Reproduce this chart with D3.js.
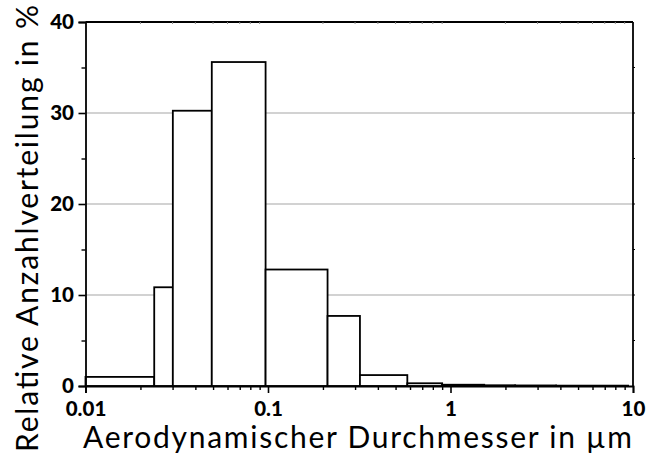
<!DOCTYPE html>
<html>
<head>
<meta charset="utf-8">
<script src="https://cdn.jsdelivr.net/npm/d3@7"></script>
<style>
  html, body { margin: 0; padding: 0; background: #fff; }
  svg { display: block; }
</style>
</head>
<body>
<svg id="chart" width="647" height="458"></svg>
<script>
// Size classes (bin edges, µm) and relative number share per class (%)
const binEdges = [0.01, 0.0238, 0.0301, 0.0492, 0.097, 0.212, 0.319, 0.58, 0.90, 1.53, 2.26, 3.79, 9.4];
const shares   = [1.0, 10.85, 30.25, 35.6, 12.8, 7.7, 1.2, 0.3, 0.14, 0.08, 0.06, 0.04];
const xTickValues = [0.01, 0.1, 1, 10];
const xTickLabels = ["0.01", "0.1", "1", "10"];
const yTickValues = [0, 10, 20, 30, 40];
const xTitle = "Aerodynamischer Durchmesser in µm";
const yTitle = "Relative Anzahlverteilung in %";

const bins = shares.map((v, i) => ({ x0: binEdges[i], x1: binEdges[i + 1], v }));

const W = 647, H = 458;
const m = { left: 85.5, right: 14, top: 22, bottom: 72 };
const svg = d3.select("#chart");
const font = "Lato, 'Open Sans', sans-serif";
const tickSize = 20.5;

const x = d3.scaleLog().domain([0.01, 10]).range([m.left, W - m.right]);
const y = d3.scaleLinear().domain([0, 40]).range([H - m.bottom, m.top]);

// horizontal grid
svg.append("g")
  .selectAll("line")
  .data([10, 20, 30])
  .join("line")
  .attr("x1", m.left).attr("x2", W - m.right)
  .attr("y1", d => y(d)).attr("y2", d => y(d))
  .attr("stroke", "#a6a6a6").attr("stroke-width", 1.2);

// histogram bars
svg.append("g")
  .selectAll("rect")
  .data(bins)
  .join("rect")
  .attr("x", d => x(d.x0))
  .attr("width", d => x(d.x1) - x(d.x0))
  .attr("y", d => y(d.v))
  .attr("height", d => y(0) - y(d.v))
  .attr("fill", "#fff")
  .attr("stroke", "#000")
  .attr("stroke-width", 1.8);

// minor ticks
const minorX = [];
for (let dec = 0.01; dec < 10; dec *= 10) {
  for (let k = 2; k <= 9; k++) minorX.push(+(k * dec).toPrecision(3));
}
const minorY = [5, 15, 25, 35];

// bottom axis
const xAxis = svg.append("g").attr("transform", `translate(0,${y(0)})`);
xAxis.append("g")
  .call(d3.axisBottom(x).tickValues(minorX).tickSize(4).tickFormat(""))
  .call(g => g.select(".domain").remove())
  .selectAll("line").attr("stroke-width", 1.4);
xAxis.append("g")
  .call(d3.axisBottom(x).tickValues(xTickValues).tickSize(7)
    .tickFormat((d, i) => xTickLabels[i]).tickPadding(8))
  .call(g => g.select(".domain").attr("stroke-width", 1.8))
  .call(g => g.selectAll("line").attr("stroke-width", 1.6))
  .call(g => g.selectAll("text")
    .attr("font-family", font).attr("font-weight", 900)
    .attr("font-size", tickSize).attr("fill", "#000"));

// left axis
const yAxis = svg.append("g").attr("transform", `translate(${m.left},0)`);
yAxis.append("g")
  .call(d3.axisLeft(y).tickValues(minorY).tickSize(4).tickFormat(""))
  .call(g => g.select(".domain").remove())
  .selectAll("line").attr("stroke-width", 1.4);
yAxis.append("g")
  .call(d3.axisLeft(y).tickValues(yTickValues).tickSize(7).tickPadding(4.5))
  .call(g => g.select(".domain").attr("stroke-width", 1.8))
  .call(g => g.selectAll("line").attr("stroke-width", 1.6))
  .call(g => g.selectAll("text")
    .attr("font-family", font).attr("font-weight", 900)
    .attr("font-size", tickSize).attr("fill", "#000"));

// frame top and right
svg.append("line")
  .attr("x1", m.left).attr("x2", W - m.right)
  .attr("y1", m.top).attr("y2", m.top)
  .attr("stroke", "#000").attr("stroke-width", 1.8);
svg.append("line")
  .attr("x1", W - m.right).attr("x2", W - m.right)
  .attr("y1", m.top).attr("y2", y(0))
  .attr("stroke", "#000").attr("stroke-width", 1.8);

// small inward ticks on the top and right frame
svg.append("g").selectAll("line")
  .data(minorX)
  .join("line")
  .attr("x1", d => x(d)).attr("x2", d => x(d))
  .attr("y1", m.top).attr("y2", m.top + 2)
  .attr("stroke", "#888").attr("stroke-width", 1);
svg.append("g").selectAll("line")
  .data(minorY.concat([10, 20, 30]))
  .join("line")
  .attr("x1", W - m.right).attr("x2", W - m.right + 2)
  .attr("y1", d => y(d)).attr("y2", d => y(d))
  .attr("stroke", "#000").attr("stroke-width", 1);

// axis titles
svg.append("text")
  .attr("x", (83 + 632) / 2).attr("y", 448)
  .attr("text-anchor", "middle")
  .attr("font-family", font).attr("font-size", 30).attr("fill", "#000")
  .attr("textLength", 549).attr("lengthAdjust", "spacing")
  .text(xTitle);

svg.append("text")
  .attr("transform", `translate(38,${(452 + 5) / 2}) rotate(-90)`)
  .attr("text-anchor", "middle")
  .attr("font-family", font).attr("font-size", 30).attr("fill", "#000")
  .attr("textLength", 447).attr("lengthAdjust", "spacing")
  .text(yTitle);
</script>
</body>
</html>
